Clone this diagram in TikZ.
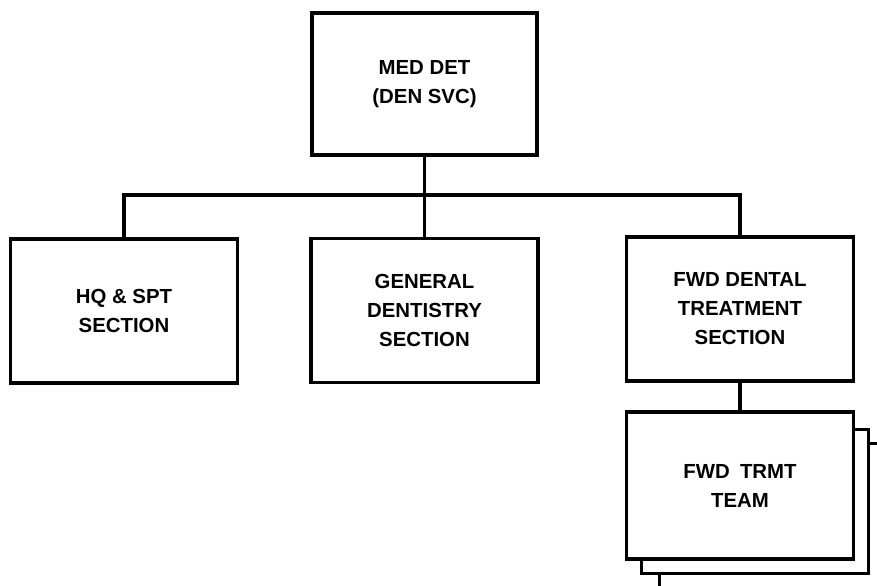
\documentclass[tikz,border=0pt]{standalone}
\usepackage{fontspec}
\setmainfont{Liberation Sans}
\usetikzlibrary{positioning, calc}

\begin{document}
\begin{tikzpicture}[
  unit/.style={draw, line width=1.9pt, fill=white, align=center, inner sep=0pt,
    font=\fontsize{11.6}{16.5}\selectfont\bfseries,
    minimum width=4.54cm, minimum height=2.88cm},
  link/.style={line width=1.9pt}
]
  \clip (0,0) rectangle (17.54,11.72);
  % Detachment
  \node[unit, minimum width=4.5cm, minimum height=2.84cm] (det) at (8.49,10.04) {MED DET\\(DEN SVC)};
  % Sections
  \node[unit] (hq)  at (2.48,5.5)  {HQ \& SPT\\SECTION};
  \node[unit] (gen) at (8.49,5.51) {GENERAL\\DENTISTRY\\SECTION};
  \node[unit] (fwd) at (14.8,5.54) {FWD DENTAL\\TREATMENT\\SECTION};
  % Teams (stacked)
  \coordinate (tm) at (14.8,2.01);
  \node[unit] (team3) at ($(tm)+(0.66,-0.6)$) {};
  \node[unit] (team2) at ($(tm)+(0.3,-0.32)$) {};
  \node[unit, minimum height=2.94cm] (team) at (tm) {FWD\enspace TRMT\\TEAM};
  % Lines
  \coordinate (bus) at (8.49,7.82);
  \draw[link] (det.south) -- (gen.north);
  \draw[link] (hq.north) |- (bus) -| (fwd.north);
  \draw[link] (fwd.south) -- (team.north);
\end{tikzpicture}
\end{document}
